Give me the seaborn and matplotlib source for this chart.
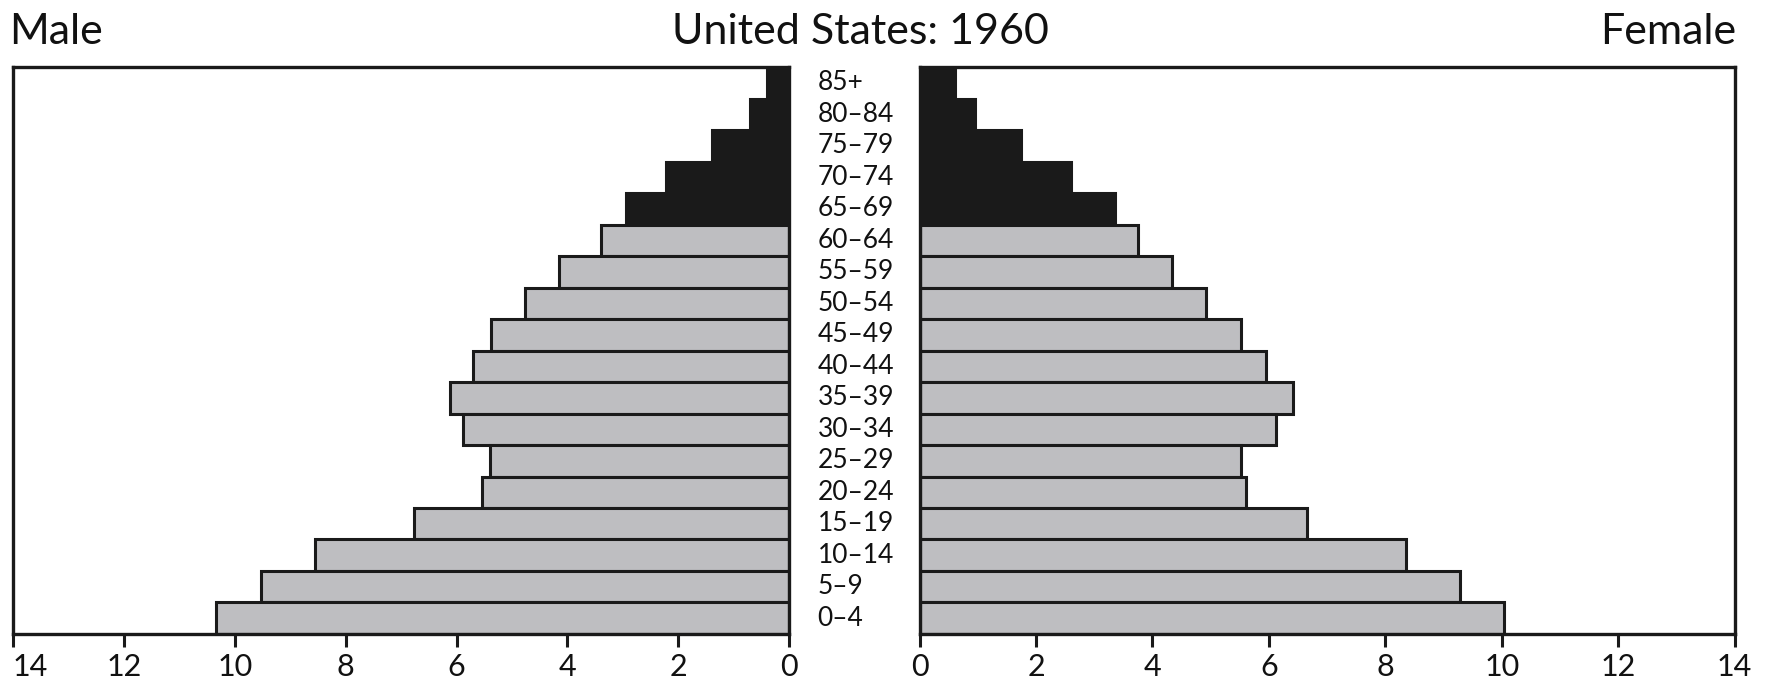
import numpy as np
import pandas as pd
import matplotlib
matplotlib.use('Agg')
import matplotlib.pyplot as plt
import seaborn as sns

# age groups, top to bottom
ages = ['85+', '80–84', '75–79', '70–74', '65–69', '60–64', '55–59', '50–54',
        '45–49', '40–44', '35–39', '30–34', '25–29', '20–24', '15–19',
        '10–14', '5–9', '0–4']
# population, millions
male = [0.40, 0.70, 1.39, 2.22, 2.95, 3.40, 4.15, 4.77, 5.37, 5.70,
        6.12, 5.88, 5.40, 5.54, 6.76, 8.55, 9.53, 10.34]
female = [0.61, 0.95, 1.74, 2.61, 3.36, 3.76, 4.33, 4.92, 5.53, 5.95,
          6.41, 6.12, 5.52, 5.60, 6.66, 8.36, 9.28, 10.04]
old_groups = ['85+', '80–84', '75–79', '70–74', '65–69']
x_ticks = [0, 2, 4, 6, 8, 10, 12, 14]

sns.set_style('white')
plt.rcParams['font.family'] = ['Lato', 'DejaVu Sans']

dark = '#1a1a1a'
grey = '#bdbdc2'
palette = {a: (dark if a in old_groups else grey) for a in ages}

df = pd.DataFrame({'age': ages, 'male': male, 'female': female})

fig = plt.figure(figsize=(17.89, 6.91), dpi=100)
ax_l = fig.add_axes([0.0073, 0.0825, 0.4338, 0.8205])
ax_r = fig.add_axes([0.5140, 0.0825, 0.4556, 0.8205])

for ax, col in [(ax_l, 'male'), (ax_r, 'female')]:
    sns.barplot(data=df, x=col, y='age', hue='age', palette=palette,
                order=ages, width=1.0, edgecolor=dark, linewidth=2.2,
                legend=False, ax=ax, orient='h')
    ax.set_ylim(len(ages) - 0.5, -0.5)
    ax.set_yticks([])
    ax.set_xlabel('')
    ax.set_ylabel('')
    ax.set_xticks(x_ticks)
    ax.set_xticklabels([str(t) for t in x_ticks], fontsize=22, color='#111111')
    ax.tick_params(axis='x', direction='out', length=9, width=2.2,
                   color=dark, pad=5, bottom=True)
    for s in ax.spines.values():
        s.set_visible(True)
        s.set_linewidth(2.4)
        s.set_color(dark)

ax_l.set_xlim(14, 0)
ax_r.set_xlim(0, 14)

# keep the outer "14" inside the figure
for lab in ax_l.get_xticklabels():
    if lab.get_text() == '14':
        lab.set_ha('left')

# age labels in the gap
for i, a in enumerate(ages):
    ax_r.text(-0.125, i, a, transform=ax_r.get_yaxis_transform(),
              ha='left', va='center', fontsize=19, color='#111111')

fig.text(0.005, 0.937, 'Male', ha='left', va='baseline', fontsize=31, color='#111111')
fig.text(0.481, 0.937, 'United States: 1960', ha='center', va='baseline',
         fontsize=31, color='#111111')
fig.text(0.9705, 0.937, 'Female', ha='right', va='baseline', fontsize=31, color='#111111')

plt.savefig('out.png', dpi=100)
